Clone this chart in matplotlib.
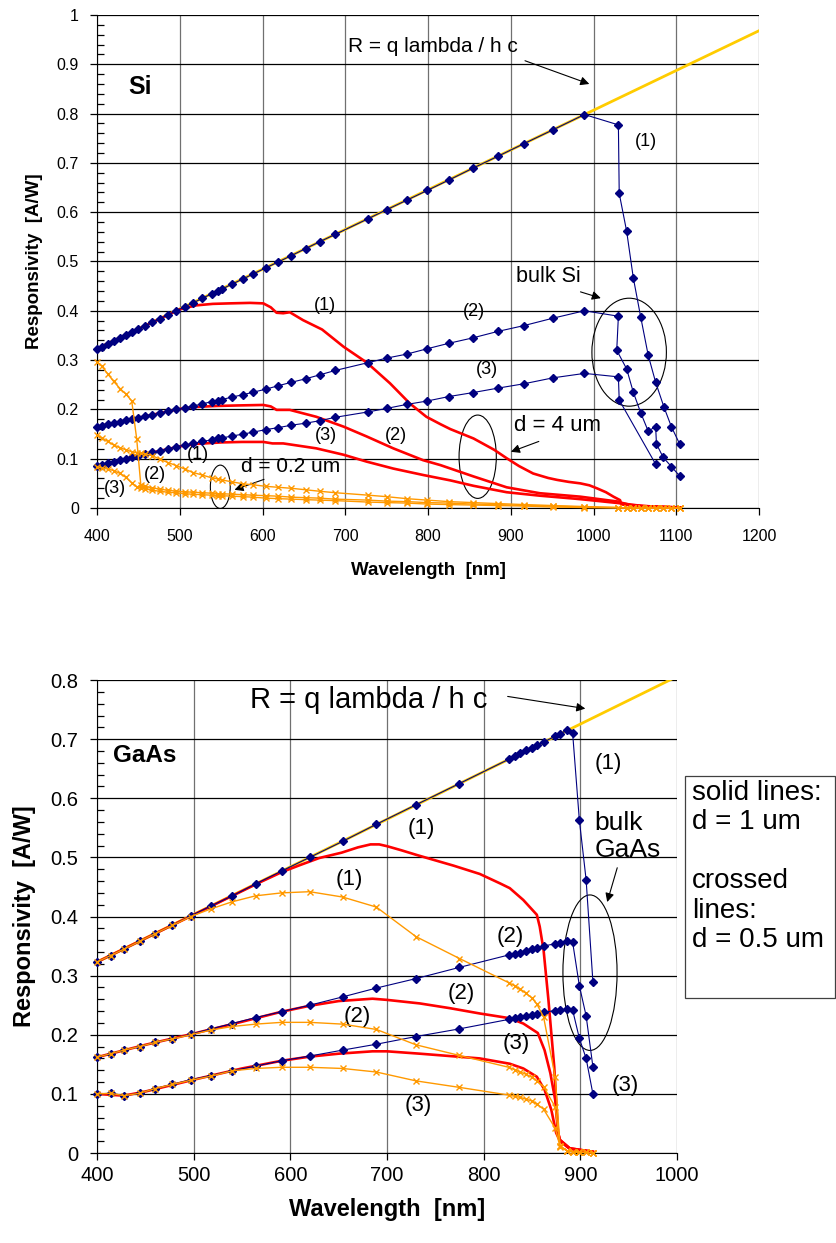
import numpy as np
import matplotlib
matplotlib.use("Agg")
import matplotlib.pyplot as plt
from matplotlib.patches import Ellipse, Rectangle
from matplotlib.ticker import MultipleLocator

plt.rcParams['font.family'] = ['Liberation Sans', 'DejaVu Sans']

# === DATI ====================================================================
# --- Si -----------------------------------------------------------------------
ideal_wl_si = [400, 1200]
ideal_si    = [0.323, 0.968]

wl_si = [400, 406, 413, 420, 428, 435, 442, 450, 458, 467,
         476, 486, 496, 506, 516, 527, 539, 546, 551, 563,
         577, 589, 604, 619, 635, 652, 669, 688, 728, 750,
         774, 799, 825, 854, 884, 916, 951, 989]
si_bulk1 = [0.323, 0.327, 0.333, 0.339, 0.345, 0.351, 0.356, 0.363, 0.369, 0.377,
            0.384, 0.392, 0.400, 0.408, 0.416, 0.425, 0.435, 0.440, 0.444, 0.454,
            0.465, 0.475, 0.487, 0.499, 0.512, 0.526, 0.540, 0.555, 0.587, 0.605,
            0.624, 0.644, 0.665, 0.689, 0.713, 0.739, 0.767, 0.798]
si_bulk2 = [0.165, 0.167, 0.170, 0.172, 0.175, 0.178, 0.180, 0.183, 0.186, 0.189,
            0.192, 0.196, 0.200, 0.203, 0.207, 0.211, 0.216, 0.218, 0.220, 0.225,
            0.230, 0.235, 0.241, 0.248, 0.255, 0.262, 0.270, 0.279, 0.295, 0.304,
            0.312, 0.323, 0.334, 0.345, 0.358, 0.370, 0.385, 0.400]
si_bulk3 = [0.085, 0.088, 0.091, 0.094, 0.097, 0.100, 0.103, 0.106, 0.109, 0.113,
            0.116, 0.120, 0.124, 0.128, 0.131, 0.135, 0.138, 0.141, 0.142, 0.146,
            0.150, 0.154, 0.159, 0.163, 0.168, 0.172, 0.177, 0.184, 0.195, 0.202,
            0.210, 0.217, 0.226, 0.234, 0.243, 0.252, 0.264, 0.273]
# coda oltre il gap
si_tail1_wl = [1030, 1031, 1040, 1048, 1057, 1066, 1075, 1085, 1094, 1104]
si_tail1    = [0.777, 0.638, 0.561, 0.467, 0.387, 0.310, 0.255, 0.205, 0.165, 0.130]
si_tail2_wl = [1030, 1028, 1040, 1048, 1057, 1066, 1075, 1076, 1084, 1094, 1104]
si_tail2    = [0.389, 0.320, 0.282, 0.235, 0.193, 0.156, 0.165, 0.130, 0.103, 0.084, 0.065]
si_tail3_wl = [1030, 1031, 1075]
si_tail3    = [0.266, 0.219, 0.089]

# d = 4 um (rosso)
si_red1_wl = [400, 450, 500, 520, 540, 560, 585, 601, 610, 617,
              625, 633, 649, 672, 698, 726, 754, 778, 798, 815,
              827, 855, 880, 895, 910, 927, 945, 956, 970, 984,
              995, 1004, 1015, 1024, 1032, 1033, 1045, 1070, 1105]
si_red1 = [0.323, 0.363, 0.403, 0.411, 0.414, 0.415, 0.416, 0.415, 0.407, 0.396,
           0.395, 0.397, 0.381, 0.362, 0.327, 0.295, 0.253, 0.212, 0.185, 0.170,
           0.160, 0.141, 0.118, 0.101, 0.085, 0.070, 0.061, 0.057, 0.053, 0.050,
           0.046, 0.040, 0.032, 0.023, 0.016, 0.011, 0.006, 0.003, 0.001]
si_red2_wl = [400, 450, 500, 520, 545, 570, 601, 610, 617, 633,
              665, 698, 726, 758, 794, 815, 855, 895, 935, 984,
              1016, 1030, 1035, 1060, 1105]
si_red2 = [0.165, 0.183, 0.201, 0.205, 0.207, 0.208, 0.209, 0.206, 0.199, 0.199,
           0.185, 0.165, 0.145, 0.121, 0.097, 0.087, 0.064, 0.042, 0.030, 0.023,
           0.016, 0.013, 0.007, 0.003, 0.001]
si_red3_wl = [400, 450, 500, 520, 550, 575, 601, 612, 625, 665,
              698, 726, 758, 794, 827, 855, 895, 935, 984, 1030,
              1060, 1105]
si_red3 = [0.085, 0.106, 0.125, 0.130, 0.133, 0.134, 0.134, 0.131, 0.131, 0.121,
           0.108, 0.094, 0.080, 0.067, 0.056, 0.045, 0.032, 0.025, 0.018, 0.010,
           0.004, 0.001]

# d = 0.2 um (arancione, crocette)
wl_si_thin = [400, 406, 413, 420, 428, 435, 442, 448, 453, 458,
              467, 476, 486, 496, 506, 516, 527, 539, 546, 551,
              563, 577, 589, 604, 619, 635, 652, 669, 688, 728,
              750, 774, 799, 825, 854, 884, 916, 951, 989, 1030,
              1040, 1048, 1057, 1066, 1075, 1084, 1094, 1104]
si_thin1 = [0.297, 0.287, 0.272, 0.257, 0.242, 0.231, 0.217, 0.140, 0.046, 0.044,
            0.041, 0.038, 0.036, 0.034, 0.033, 0.032, 0.031, 0.030, 0.029, 0.029,
            0.028, 0.027, 0.026, 0.025, 0.024, 0.022, 0.021, 0.020, 0.018, 0.016,
            0.014, 0.013, 0.011, 0.010, 0.008, 0.007, 0.005, 0.004, 0.002, 0.001,
            0, 0, 0, 0, 0, 0, 0, 0]
si_thin2 = [0.149, 0.142, 0.135, 0.128, 0.122, 0.118, 0.114, 0.112, 0.111, 0.110,
            0.106, 0.099, 0.092, 0.086, 0.079, 0.072, 0.067, 0.061, 0.059, 0.057,
            0.053, 0.049, 0.047, 0.044, 0.042, 0.040, 0.037, 0.034, 0.031, 0.026,
            0.023, 0.019, 0.016, 0.013, 0.011, 0.009, 0.007, 0.005, 0.003, 0.001,
            0, 0, 0, 0, 0, 0, 0, 0]
si_thin3 = [0.084, 0.081, 0.079, 0.076, 0.070, 0.062, 0.051, 0.043, 0.041, 0.039,
            0.036, 0.034, 0.032, 0.031, 0.029, 0.028, 0.027, 0.026, 0.025, 0.025,
            0.024, 0.023, 0.022, 0.020, 0.019, 0.018, 0.017, 0.016, 0.015, 0.012,
            0.011, 0.010, 0.008, 0.007, 0.006, 0.005, 0.004, 0.002, 0.001, 0,
            0, 0, 0, 0, 0, 0, 0, 0]

# --- GaAs ---------------------------------------------------------------------
ideal_wl_ga = [400, 1000]
ideal_ga    = [0.323, 0.806]

wl_ga = [400, 414, 428, 444, 460, 478, 497, 518, 540, 564,
         591, 620, 654, 689, 730, 775, 826, 832, 838, 844,
         850, 855, 862, 874, 879, 886, 892]
ga_bulk1 = [0.323, 0.334, 0.345, 0.358, 0.371, 0.385, 0.401, 0.418, 0.435, 0.455,
            0.477, 0.500, 0.527, 0.556, 0.589, 0.625, 0.666, 0.671, 0.676, 0.681,
            0.685, 0.690, 0.695, 0.705, 0.709, 0.715, 0.711]
ga_bulk2 = [0.162, 0.168, 0.174, 0.180, 0.187, 0.193, 0.201, 0.210, 0.219, 0.229,
            0.239, 0.250, 0.264, 0.279, 0.295, 0.314, 0.335, 0.337, 0.339, 0.342,
            0.345, 0.347, 0.350, 0.354, 0.356, 0.359, 0.357]
ga_bulk3 = [0.100, 0.101, 0.097, 0.101, 0.109, 0.116, 0.124, 0.131, 0.139, 0.147,
            0.156, 0.164, 0.174, 0.184, 0.197, 0.210, 0.226, 0.228, 0.230, 0.232,
            0.234, 0.235, 0.238, 0.241, 0.242, 0.243, 0.242]
ga_tail_wl = [899, 906, 913]
ga_tail1 = [0.563, 0.462, 0.290]
ga_tail2 = [0.283, 0.232, 0.146]
ga_tail3 = [0.194, 0.160, 0.100]

# d = 1 um (rosso)
ga_red1_wl = [400, 450, 500, 540, 570, 591, 610, 630, 653, 670,
              683, 692, 700, 715, 731, 750, 769, 796, 817, 827,
              841, 855, 858, 862, 867, 873, 877, 879, 889, 913]
ga_red1 = [0.323, 0.363, 0.403, 0.435, 0.459, 0.475, 0.487, 0.499, 0.508, 0.517,
           0.522, 0.522, 0.519, 0.512, 0.504, 0.495, 0.486, 0.472, 0.456, 0.448,
           0.428, 0.403, 0.383, 0.343, 0.259, 0.146, 0.034, 0.022, 0.008, 0.002]
ga_red2_wl = [400, 450, 500, 550, 591, 620, 650, 685, 700, 734,
              765, 796, 827, 841, 856, 863, 869, 874, 877, 879,
              889, 913]
ga_red2 = [0.162, 0.183, 0.202, 0.222, 0.239, 0.249, 0.257, 0.261, 0.259, 0.253,
           0.245, 0.236, 0.228, 0.219, 0.203, 0.174, 0.135, 0.090, 0.034, 0.022,
           0.008, 0.002]
ga_red3_wl = [400, 428, 450, 500, 550, 591, 620, 650, 685, 700,
              734, 765, 796, 827, 841, 855, 863, 870, 875, 879,
              889, 913]
ga_red3 = [0.100, 0.097, 0.104, 0.124, 0.143, 0.156, 0.163, 0.168, 0.172, 0.172,
           0.168, 0.164, 0.160, 0.151, 0.143, 0.129, 0.107, 0.073, 0.034, 0.020,
           0.007, 0.002]

# d = 0.5 um (arancione, crocette) sulla griglia wl_ga + ga_tail_wl
ga_thin1 = [0.323, 0.334, 0.345, 0.358, 0.371, 0.385, 0.400, 0.413, 0.425, 0.435,
            0.440, 0.442, 0.433, 0.416, 0.366, 0.329, 0.288, 0.283, 0.277, 0.270,
            0.262, 0.252, 0.230, 0.129, 0.012, 0.004, 0.002, 0.001, 0.001, 0.000]
ga_thin2 = [0.162, 0.168, 0.174, 0.180, 0.187, 0.193, 0.200, 0.208, 0.214, 0.218,
            0.221, 0.221, 0.218, 0.209, 0.183, 0.165, 0.145, 0.141, 0.137, 0.133,
            0.128, 0.122, 0.112, 0.078, 0.012, 0.004, 0.002, 0.001, 0.001, 0.000]
ga_thin3 = [0.100, 0.101, 0.097, 0.101, 0.109, 0.116, 0.123, 0.130, 0.139, 0.143,
            0.145, 0.145, 0.143, 0.137, 0.122, 0.111, 0.098, 0.096, 0.094, 0.091,
            0.088, 0.083, 0.074, 0.042, 0.011, 0.004, 0.002, 0.001, 0.001, 0.000]
# ============================================================================

NAVY, ORANGE, RED, GOLD = "#000080", "#FF9900", "#FF0000", "#FFCC00"

fig = plt.figure(figsize=(8.36, 12.43), dpi=100)
ax1 = fig.add_axes([0.116, 0.5913, 0.792, 0.3967])
ax2 = fig.add_axes([0.116, 0.0724, 0.6938, 0.3805])


def bulk(ax, x, y):
    ax.plot(x, y, color=NAVY, lw=0.8, marker="D", ms=3.7, clip_on=False, zorder=4)


def thin(ax, x, y):
    ax.plot(x, y, color=ORANGE, lw=1.0, marker="x", ms=5, mew=1.0, clip_on=False, zorder=5)


def red(ax, x, y):
    ax.plot(x, y, color=RED, lw=1.9, clip_on=False, zorder=3)


def stile(ax, xmax, ymax, tick_fs, lab_fs, xpad, ypad, padx, pady):
    ax.set_xlim(400, xmax)
    ax.set_ylim(0, ymax)
    ax.xaxis.set_major_locator(MultipleLocator(100))
    ax.yaxis.set_major_locator(MultipleLocator(0.1))
    ax.yaxis.set_minor_locator(MultipleLocator(0.02))
    ax.xaxis.grid(True, color="#707070", lw=0.9)
    ax.yaxis.grid(True, color="black", lw=0.9)
    ax.set_axisbelow(True)
    ax.tick_params(which="major", direction="out", length=5, width=0.9, labelsize=tick_fs)
    ax.tick_params(axis="x", which="major", pad=xpad)
    ax.tick_params(axis="y", which="major", pad=ypad)
    ax.tick_params(axis="y", which="minor", direction="in", length=5, width=0.9)
    ax.yaxis.set_major_formatter(plt.FuncFormatter(lambda v, p: "0" if v == 0 else ("1" if v == 1 else f"{v:.1f}")))
    for s in ["top", "right"]:
        ax.spines[s].set_visible(False)
    ax.set_xlabel("Wavelength  [nm]", fontsize=lab_fs, fontweight="bold", labelpad=padx)
    ax.set_ylabel("Responsivity  [A/W]", fontsize=lab_fs, fontweight="bold", labelpad=pady)


def freccia(ax, tip, start):
    ax.annotate("", xy=tip, xytext=start,
                arrowprops=dict(arrowstyle="-|>", color="black", lw=0.8, mutation_scale=13))


# ------------------------- Si ------------------------------------------------
ax1.plot(ideal_wl_si, ideal_si, color=GOLD, lw=2.0, zorder=2)
red(ax1, si_red1_wl, si_red1)
red(ax1, si_red2_wl, si_red2)
red(ax1, si_red3_wl, si_red3)
bulk(ax1, wl_si + si_tail1_wl, si_bulk1 + si_tail1)
bulk(ax1, wl_si + si_tail2_wl, si_bulk2 + si_tail2)
bulk(ax1, wl_si + si_tail3_wl, si_bulk3 + si_tail3)
thin(ax1, wl_si_thin, si_thin1)
thin(ax1, wl_si_thin, si_thin2)
thin(ax1, wl_si_thin, si_thin3)
stile(ax1, 1200, 1.0, 11.5, 13.5, 10, 8, 13, 10)

ax1.text(806, 0.935, "R = q lambda / h c", fontsize=15, ha="center", va="center")
freccia(ax1, (998, 0.858), (914, 0.909))
ax1.text(452, 0.854, "Si", fontsize=18, fontweight="bold", ha="center", va="center")
ax1.text(1063, 0.744, "(1)", fontsize=13, ha="center", va="center")
ax1.text(945, 0.469, "bulk Si", fontsize=15.5, ha="center", va="center")
freccia(ax1, (1012, 0.424), (981, 0.440))
ax1.add_patch(Ellipse((1043, 0.316), 90, 0.219, fill=False, ec="black", lw=0.8))
ax1.text(856, 0.398, "(2)", fontsize=13, ha="center", va="center")
ax1.text(871, 0.280, "(3)", fontsize=13, ha="center", va="center")
ax1.text(676, 0.410, "(1)", fontsize=13, ha="center", va="center")
ax1.text(761, 0.148, "(2)", fontsize=13, ha="center", va="center")
ax1.text(677, 0.148, "(3)", fontsize=13, ha="center", va="center")
ax1.text(956, 0.168, "d = 4 um", fontsize=16, ha="center", va="center")
freccia(ax1, (897, 0.112), (937, 0.137))
ax1.add_patch(Ellipse((860, 0.104), 45, 0.169, fill=False, ec="black", lw=0.8))
ax1.text(522, 0.108, "(1)", fontsize=13, ha="center", va="center")
ax1.text(470, 0.067, "(2)", fontsize=13, ha="center", va="center")
ax1.text(422, 0.040, "(3)", fontsize=13, ha="center", va="center")
ax1.text(634, 0.085, "d = 0.2 um", fontsize=15, ha="center", va="center")
freccia(ax1, (563, 0.035), (605, 0.060))
ax1.add_patch(Ellipse((549, 0.043), 24, 0.088, fill=False, ec="black", lw=0.8))

# ------------------------- GaAs ----------------------------------------------
wl_ga_all = wl_ga + ga_tail_wl
ax2.plot(ideal_wl_ga, ideal_ga, color=GOLD, lw=2.0, zorder=2)
red(ax2, ga_red1_wl, ga_red1)
red(ax2, ga_red2_wl, ga_red2)
red(ax2, ga_red3_wl, ga_red3)
bulk(ax2, wl_ga_all, ga_bulk1 + ga_tail1)
bulk(ax2, wl_ga_all, ga_bulk2 + ga_tail2)
bulk(ax2, wl_ga_all, ga_bulk3 + ga_tail3)
thin(ax2, wl_ga_all, ga_thin1)
thin(ax2, wl_ga_all, ga_thin2)
thin(ax2, wl_ga_all, ga_thin3)
stile(ax2, 1000, 0.8, 14.5, 17, 4, 8.5, 10, 10)

ax2.text(681, 0.766, "R = q lambda / h c", fontsize=21, ha="center", va="center")
freccia(ax2, (908, 0.751), (822, 0.773))
ax2.text(449, 0.672, "GaAs", fontsize=17.5, fontweight="bold", ha="center", va="center")
ax2.text(929, 0.659, "(1)", fontsize=16, ha="center", va="center")
ax2.text(915, 0.536, "bulk\nGaAs", fontsize=19, ha="left", va="center", linespacing=1.15)
freccia(ax2, (927, 0.420), (939, 0.487))
ax2.add_patch(Ellipse((910, 0.305), 56, 0.263, fill=False, ec="black", lw=0.8))
ax2.text(946, 0.115, "(3)", fontsize=16, ha="center", va="center")
ax2.text(661, 0.463, "(1)", fontsize=16, ha="center", va="center")
ax2.text(736, 0.549, "(1)", fontsize=16, ha="center", va="center")
ax2.text(827, 0.366, "(2)", fontsize=16, ha="center", va="center")
ax2.text(777, 0.270, "(2)", fontsize=16, ha="center", va="center")
ax2.text(669, 0.231, "(2)", fontsize=16, ha="center", va="center")
ax2.text(834, 0.186, "(3)", fontsize=16, ha="center", va="center")
ax2.text(732, 0.081, "(3)", fontsize=16, ha="center", va="center")

# riquadro con la spiegazione degli stili
fig.patches.append(Rectangle((0.8194, 0.1971), 0.1794, 0.1786, transform=fig.transFigure,
                             fill=False, ec="#404040", lw=0.9))
fig.text(0.8278, 0.3725, "solid lines:\nd = 1 um\n\ncrossed\nlines:\nd = 0.5 um",
         fontsize=20, ha="left", va="top", linespacing=1.17)

fig.savefig("out.png", dpi=100)
